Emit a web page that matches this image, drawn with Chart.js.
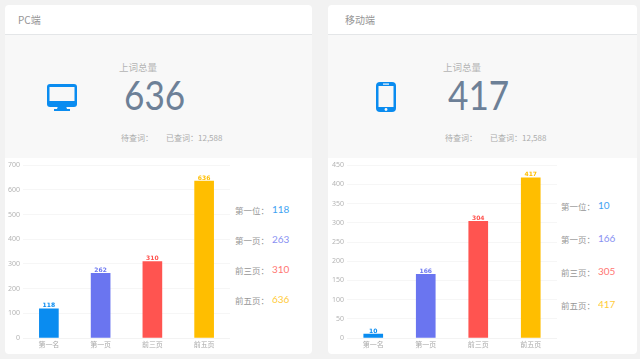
<!DOCTYPE html>
<html>
<head>
<meta charset="utf-8">
<script src="https://cdn.jsdelivr.net/npm/chart.js@4/dist/chart.umd.min.js"></script>
<style>
html,body{margin:0;padding:0;width:640px;height:359px;overflow:hidden;background:#f2f2f2;font-family:"Noto Sans CJK SC","Noto Sans",sans-serif;}
.card{position:absolute;top:5px;height:349px;background:#fff;border-radius:4px;overflow:hidden;}
.head{position:absolute;left:0;right:0;top:0;height:29px;border-bottom:1px solid #e4e6e8;font-size:10px;line-height:30px;color:#969696;}
.stat{position:absolute;left:0;right:0;top:30px;height:123px;background:#f8f8f8;}
.t{position:absolute;white-space:nowrap;}
.ask{font-size:9.5px;color:#b4b4b4;top:25px;}
.big{font-family:Lato,sans-serif;font-weight:400;font-size:40px;line-height:41px;color:#6d8097;top:40px;transform:scaleX(0.88);transform-origin:left top;}
.sub{font-size:8px;color:#acacac;top:97px;}
.icon{position:absolute;}
canvas{position:absolute;top:153px;left:0;}
.side{position:absolute;white-space:nowrap;font-size:8.5px;color:#969696;}
.side b{position:absolute;top:-1px;font-family:Lato,sans-serif;font-weight:400;font-size:10px;}
</style>
</head>
<body>
<div class="card" style="left:5px;width:307px">
  <div class="head"><span style="margin-left:13px">PC端</span></div>
  <div class="stat">
    <svg class="icon" style="left:42px;top:49px" width="30" height="27" viewBox="0 0 30 27">
      <path fill="#0a8cf0" d="M3 0h24a3 3 0 0 1 3 3v17a3 3 0 0 1-3 3H3a3 3 0 0 1-3-3V3a3 3 0 0 1 3-3z"/>
      <rect x="2.5" y="3" width="25" height="14" fill="#f8f8f8"/>
      <path fill="#0a8cf0" d="M11 22h8l1 3h3v2H7v-2h3z"/>
    </svg>
    <div class="t ask" style="left:114px">上词总量</div>
    <div class="t big" style="left:119px" id="bigA"></div>
    <div class="t sub" style="left:116px">待查词：</div>
    <div class="t sub" style="left:161px">已查词：12,588</div>
  </div>
  <canvas id="chartA"></canvas>
  <div id="sideA"></div>
</div>
<div class="card" style="left:328px;width:309px">
  <div class="head"><span style="margin-left:17px">移动端</span></div>
  <div class="stat">
    <svg class="icon" style="left:48px;top:47px" width="20" height="30" viewBox="0 0 20 30">
      <rect x="0" y="0" width="20" height="30" rx="4" fill="#0a8cf0"/>
      <rect x="2.5" y="4" width="15" height="21" fill="#f8f8f8"/>
      <rect x="7" y="1.5" width="6" height="1.2" fill="#f8f8f8"/>
      <circle cx="10" cy="27.5" r="1.4" fill="#f8f8f8"/>
    </svg>
    <div class="t ask" style="left:115px">上词总量</div>
    <div class="t big" style="left:120px" id="bigB"></div>
    <div class="t sub" style="left:117px">待查词：</div>
    <div class="t sub" style="left:162px">已查词：12,588</div>
  </div>
  <canvas id="chartB"></canvas>
  <div id="sideB"></div>
</div>
<script>
var categories = ["第一名","第一页","前三页","前五页"];
var sideLabels = ["第一位：","第一页：","前三页：","前五页："];
var colors = ["#0a8cf0","#6a75f0","#ff5450","#ffbe00"];

var pcValues = [118,262,310,636];
var pcSide = [118,263,310,636];
var pcTotal = 636;
var mobileValues = [10,166,304,417];
var mobileSide = [10,166,305,417];
var mobileTotal = 417;

var barLabels = {
    id: "barLabels",
    afterDatasetsDraw: function(chart){
        var ctx = chart.ctx;
        var meta = chart.getDatasetMeta(0);
        ctx.save();
        ctx.font = "bold 6px 'DejaVu Sans'";
        ctx.textAlign = "center";
        ctx.textBaseline = "bottom";
        meta.data.forEach(function(bar,i){
            ctx.fillStyle = colors[i];
            ctx.fillText(chart.data.datasets[0].data[i], bar.x, bar.y);
        });
        ctx.restore();
    }
};

function makeChart(id,values,max,step,w,yw){
    var el = document.getElementById(id);
    el.width = w; el.height = 196;
    el.style.width = w + "px"; el.style.height = "196px";
    return new Chart(el,{
        type: "bar",
        data: {
            labels: categories,
            datasets: [{data: values, backgroundColor: colors, barThickness: 19}]
        },
        options: {
            responsive: false,
            animation: false,
            layout: {padding: {top: 6, right: 0, bottom: 0, left: 0}},
            plugins: {legend: {display: false}, tooltip: {enabled: false}},
            scales: {
                x: {
                    grid: {display: false, drawTicks: false},
                    border: {color: "#f3f3f3"},
                    afterFit: function(s){ s.height = 16; },
                    ticks: {color: "#aaaaaa", font: {size: 7, family: "Noto Sans CJK SC"}, padding: 2, maxRotation: 0}
                },
                y: {
                    min: 0, max: max,
                    afterFit: function(s){ s.width = yw; },
                    grid: {color: "#f6f6f6", drawTicks: false},
                    border: {display: false},
                    ticks: {stepSize: step, color: "#b4b4b4", font: {size: 7, family: "Noto Sans"}, padding: 3}
                }
            }
        },
        plugins: [barLabels]
    });
}

function makeSide(id,values,left,numLeft,tops){
    var box = document.getElementById(id);
    values.forEach(function(v,i){
        var d = document.createElement("div");
        d.className = "side";
        d.style.left = left + "px";
        d.style.top = tops[i] + "px";
        d.textContent = sideLabels[i];
        var b = document.createElement("b");
        b.style.left = numLeft + "px";
        b.style.color = colors[i];
        b.style.opacity = 0.8;
        b.textContent = v;
        d.appendChild(b);
        box.appendChild(d);
    });
}

document.getElementById("bigA").textContent = pcTotal;
document.getElementById("bigB").textContent = mobileTotal;
makeChart("chartA",pcValues,700,100,225,18);
makeChart("chartB",mobileValues,450,50,229,19);
makeSide("sideA",pcSide,230,37,[199,229,259,289]);
makeSide("sideB",mobileSide,233,37,[195,228,261,294]);
</script>
</body>
</html>
